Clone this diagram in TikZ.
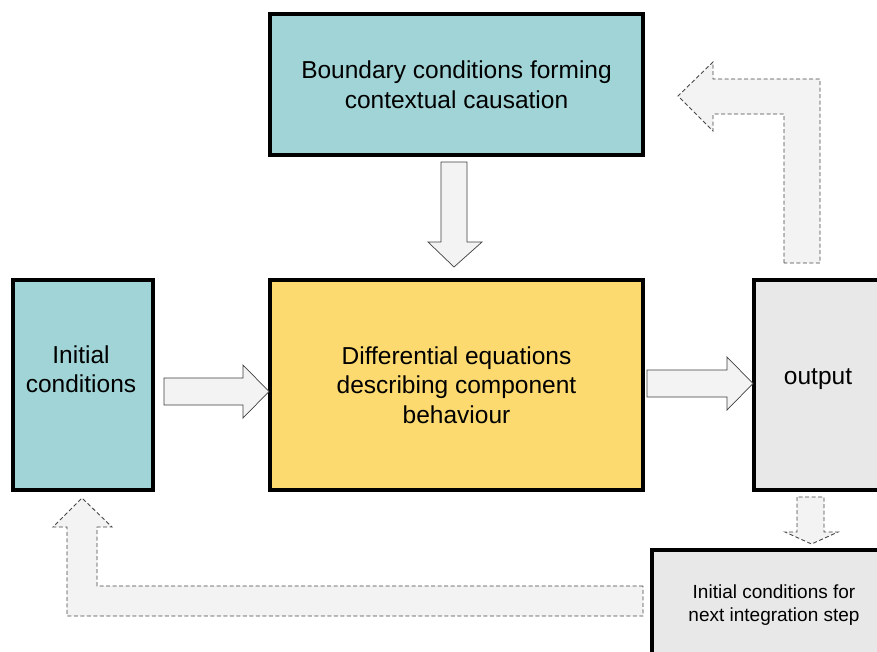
\documentclass[tikz,border=0pt]{standalone}
\usepackage{fontspec}
\setmainfont{Liberation Sans}
\definecolor{tealbox}{RGB}{160,212,214}
\definecolor{yellowbox}{RGB}{252,218,112}
\definecolor{graybox}{RGB}{232,232,232}
\definecolor{arrowfill}{RGB}{243,243,243}
\definecolor{dashline}{RGB}{70,70,70}
\tikzset{
  blockbox/.style={draw=black, line width=4pt, rectangle, inner sep=0pt, align=center,
    font=\fontsize{24.5}{29.5}\selectfont},
  solidarrow/.style={draw=black!75, line width=0.7pt, fill=arrowfill, line join=miter},
  dasharrow/.style={draw=dashline, line width=0.9pt, dash pattern=on 4pt off 2.5pt, fill=arrowfill},
}
\begin{document}
\begin{tikzpicture}[x=1pt,y=-1pt]
\useasboundingbox (0,0) rectangle (877,651);
\clip (0,0) rectangle (877,651);
\fill[white] (0,0) rectangle (877,651);

\node[blockbox, fill=tealbox, minimum width=373pt, minimum height=141pt] (bound) at (456.5,84.5)
  {Boundary conditions forming\\contextual causation};
\node[blockbox, fill=tealbox, minimum width=140pt, minimum height=210pt] (init) at (83,385) {};
\node[font=\fontsize{24.5}{29.5}\selectfont, align=center] (inittext) at (81,369) {Initial\\conditions};
\node[blockbox, fill=yellowbox, minimum width=373pt, minimum height=210pt] (diff) at (456.5,385)
  {Differential equations\\describing component\\behaviour};
\node[blockbox, fill=graybox, minimum width=136pt, minimum height=210pt] (out) at (822,385)
  {};
\node (outtext) at (818,379) {\fontsize{24.5}{29.5}\selectfont output};
\node[blockbox, fill=graybox, minimum width=244pt, minimum height=110pt,
  font=\fontsize{19}{23}\selectfont] (next) at (774,605)
  {Initial conditions for\\next integration step};

% solid block arrows
\draw[solidarrow] (441,162) -- (441,242) -- (428,242) -- (454,267) -- (482,242) -- (467,242) -- (467,162) -- cycle;
\draw[solidarrow] (164,378) -- (243,378) -- (243,365) -- (269,391.5) -- (243,418) -- (243,405) -- (164,405) -- cycle;
\draw[solidarrow] (647,370) -- (727,370) -- (727,357) -- (753,383.5) -- (727,410) -- (727,397) -- (647,397) -- cycle;

% dashed block arrows
\draw[dasharrow] (784,263) -- (784,114) -- (713,114) -- (713,131) -- (678,96) -- (713,62) -- (713,79) -- (820,79) -- (820,263) -- cycle;
\draw[dasharrow] (797,497) -- (797,532) -- (785,532) -- (811.5,544) -- (838,532) -- (824,532) -- (824,497) -- cycle;
\draw[dasharrow] (643,586) -- (97,586) -- (97,527) -- (112,527) -- (82,498) -- (53,527) -- (67,527) -- (67,616) -- (643,616) -- cycle;
\end{tikzpicture}
\end{document}
